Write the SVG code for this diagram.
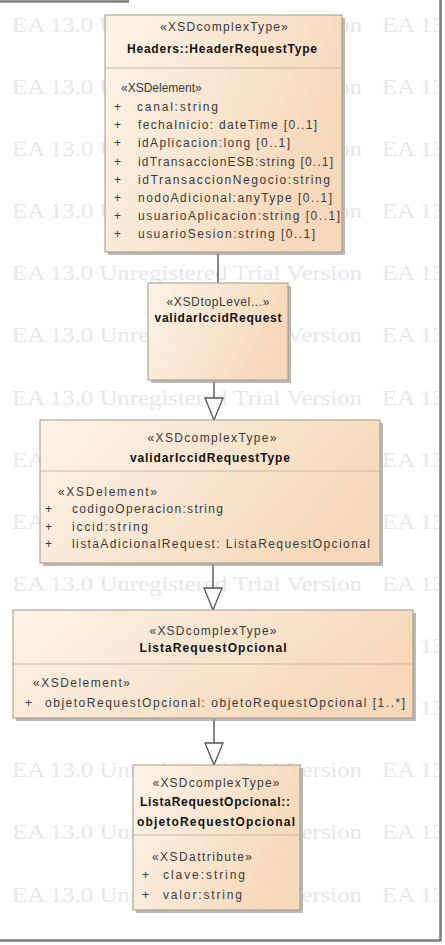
<svg xmlns="http://www.w3.org/2000/svg" xmlns:xlink="http://www.w3.org/1999/xlink" width="445" height="945" viewBox="0 0 445 945">
<style>
.box{fill:url(#g);stroke:#a59786;stroke-width:1}
.sh{fill:#9c9c9c;opacity:.7}
.sep{stroke:#c9b8a4;stroke-width:1}
.t{font-family:"Liberation Sans",Arial,sans-serif;font-size:12px;fill:#3a3a3a}
.b{font-weight:bold;fill:#111}
.m{text-anchor:middle}
.wm{font-family:"Liberation Serif","Times New Roman",serif;font-size:20px;fill:#e6e8ee}
.c{stroke:#484848;stroke-width:1.3;fill:none}
.tri{fill:#fff;stroke:#555;stroke-width:1.3}
.fr{stroke:#7d7d7d;stroke-width:2.5;fill:none}
</style>
<defs>
<linearGradient id="g" x1="0" y1="0" x2="1" y2="0.35">
<stop offset="0" stop-color="#fdf4e9"/>
<stop offset="1" stop-color="#f6d9ba"/>
</linearGradient>
<clipPath id="cl"><rect x="0" y="0" width="439" height="939"/></clipPath>
<g id="wmrow">
<text class="wm" x="12" y="0" textLength="350" lengthAdjust="spacingAndGlyphs">EA 13.0 Unregistered Trial Version</text>
<text class="wm" x="382" y="0" textLength="350" lengthAdjust="spacingAndGlyphs">EA 13.0 Unregistered Trial Version</text>
</g>
</defs>
<rect width="445" height="945" fill="#fff"/>
<g id="watermark" clip-path="url(#cl)">
<use xlink:href="#wmrow" y="32"/>
<use xlink:href="#wmrow" y="94"/>
<use xlink:href="#wmrow" y="156"/>
<use xlink:href="#wmrow" y="218"/>
<use xlink:href="#wmrow" y="280"/>
<use xlink:href="#wmrow" y="342"/>
<use xlink:href="#wmrow" y="405"/>
<use xlink:href="#wmrow" y="467"/>
<use xlink:href="#wmrow" y="529"/>
<use xlink:href="#wmrow" y="591"/>
<use xlink:href="#wmrow" y="653"/>
<use xlink:href="#wmrow" y="715"/>
<use xlink:href="#wmrow" y="777"/>
<use xlink:href="#wmrow" y="839"/>
<use xlink:href="#wmrow" y="902"/>
</g>
<g id="frame">
<path class="fr" d="M0 1.5H129"/>
<path class="fr" d="M440.5 0V941"/>
<path class="fr" d="M0 940.5H441"/>
</g>
<g id="connectors">
<path class="c" d="M218 253V283"/>
<path class="c" d="M214 381V398"/>
<path class="tri" d="M205 398H223L214 420Z"/>
<path class="c" d="M213 564V588"/>
<path class="tri" d="M204 588H222L213 610Z"/>
<path class="c" d="M214 719V743"/>
<path class="tri" d="M205 743H223L214 765Z"/>
</g>
<g id="HeaderRequestType">
<rect class="sh" x="108" y="18" width="237" height="237"/>
<rect class="box" x="105" y="15" width="237" height="237"/>
<line class="sep" x1="105" y1="68" x2="342" y2="68"/>
<text class="t m" x="224" y="31" textLength="128" lengthAdjust="spacing">«XSDcomplexType»</text>
<text class="t b m" x="222" y="53" textLength="190" lengthAdjust="spacing">Headers::HeaderRequestType</text>
<text class="t" x="121" y="92">«XSDelement»</text>
<text class="t" x="114" y="111">+</text><text class="t" x="137" y="111" textLength="81" lengthAdjust="spacing">canal:string</text>
<text class="t" x="114" y="129">+</text><text class="t" x="138" y="129" textLength="179" lengthAdjust="spacing">fechaInicio: dateTime [0..1]</text>
<text class="t" x="114" y="147">+</text><text class="t" x="138" y="147" textLength="152" lengthAdjust="spacing">idAplicacion:long [0..1]</text>
<text class="t" x="114" y="166">+</text><text class="t" x="138" y="166" textLength="195" lengthAdjust="spacing">idTransaccionESB:string [0..1]</text>
<text class="t" x="114" y="184">+</text><text class="t" x="138" y="184" textLength="192" lengthAdjust="spacing">idTransaccionNegocio:string</text>
<text class="t" x="114" y="202">+</text><text class="t" x="138" y="202" textLength="194" lengthAdjust="spacing">nodoAdicional:anyType [0..1]</text>
<text class="t" x="114" y="220">+</text><text class="t" x="138" y="220" textLength="202" lengthAdjust="spacing">usuarioAplicacion:string [0..1]</text>
<text class="t" x="114" y="238">+</text><text class="t" x="138" y="238" textLength="177" lengthAdjust="spacing">usuarioSesion:string [0..1]</text>
</g>
<g id="validarIccidRequest">
<rect class="sh" x="151" y="286" width="140" height="97"/>
<rect class="box" x="148" y="283" width="140" height="97"/>
<text class="t m" x="218" y="306" textLength="103" lengthAdjust="spacing">«XSDtopLevel...»</text>
<text class="t b m" x="218" y="322" textLength="127" lengthAdjust="spacing">validarIccidRequest</text>
</g>
<g id="validarIccidRequestType">
<rect class="sh" x="43" y="423" width="340" height="143"/>
<rect class="box" x="40" y="420" width="340" height="143"/>
<line class="sep" x1="40" y1="471" x2="380" y2="471"/>
<text class="t m" x="212" y="442" textLength="129" lengthAdjust="spacing">«XSDcomplexType»</text>
<text class="t b m" x="210" y="462" textLength="160" lengthAdjust="spacing">validarIccidRequestType</text>
<text class="t" x="58" y="496" textLength="99" lengthAdjust="spacing">«XSDelement»</text>
<text class="t" x="45" y="513">+</text><text class="t" x="72" y="513" textLength="151" lengthAdjust="spacing">codigoOperacion:string</text>
<text class="t" x="45" y="531">+</text><text class="t" x="72" y="531" textLength="76" lengthAdjust="spacing">iccid:string</text>
<text class="t" x="45" y="548">+</text><text class="t" x="72" y="548" textLength="298" lengthAdjust="spacing">listaAdicionalRequest: ListaRequestOpcional</text>
</g>
<g id="ListaRequestOpcional">
<rect class="sh" x="16" y="613" width="400" height="108"/>
<rect class="box" x="13" y="610" width="400" height="108"/>
<line class="sep" x1="13" y1="664" x2="413" y2="664"/>
<text class="t m" x="213" y="635" textLength="127" lengthAdjust="spacing">«XSDcomplexType»</text>
<text class="t b m" x="213" y="652" textLength="147" lengthAdjust="spacing">ListaRequestOpcional</text>
<text class="t" x="33" y="687" textLength="97" lengthAdjust="spacing">«XSDelement»</text>
<text class="t" x="25" y="707">+</text><text class="t" x="45" y="707" textLength="360" lengthAdjust="spacing">objetoRequestOpcional: objetoRequestOpcional [1..*]</text>
</g>
<g id="objetoRequestOpcional">
<rect class="sh" x="136" y="768" width="167" height="145"/>
<rect class="box" x="133" y="765" width="167" height="145"/>
<line class="sep" x1="133" y1="835" x2="300" y2="835"/>
<text class="t m" x="216" y="787" textLength="127" lengthAdjust="spacing">«XSDcomplexType»</text>
<text class="t b m" x="215" y="806" textLength="150" lengthAdjust="spacing">ListaRequestOpcional::</text>
<text class="t b m" x="216" y="826" textLength="158" lengthAdjust="spacing">objetoRequestOpcional</text>
<text class="t" x="152" y="861" textLength="100" lengthAdjust="spacing">«XSDattribute»</text>
<text class="t" x="142" y="879">+</text><text class="t" x="163" y="879" textLength="82" lengthAdjust="spacing">clave:string</text>
<text class="t" x="142" y="899">+</text><text class="t" x="163" y="899" textLength="79" lengthAdjust="spacing">valor:string</text>
</g>
</svg>
